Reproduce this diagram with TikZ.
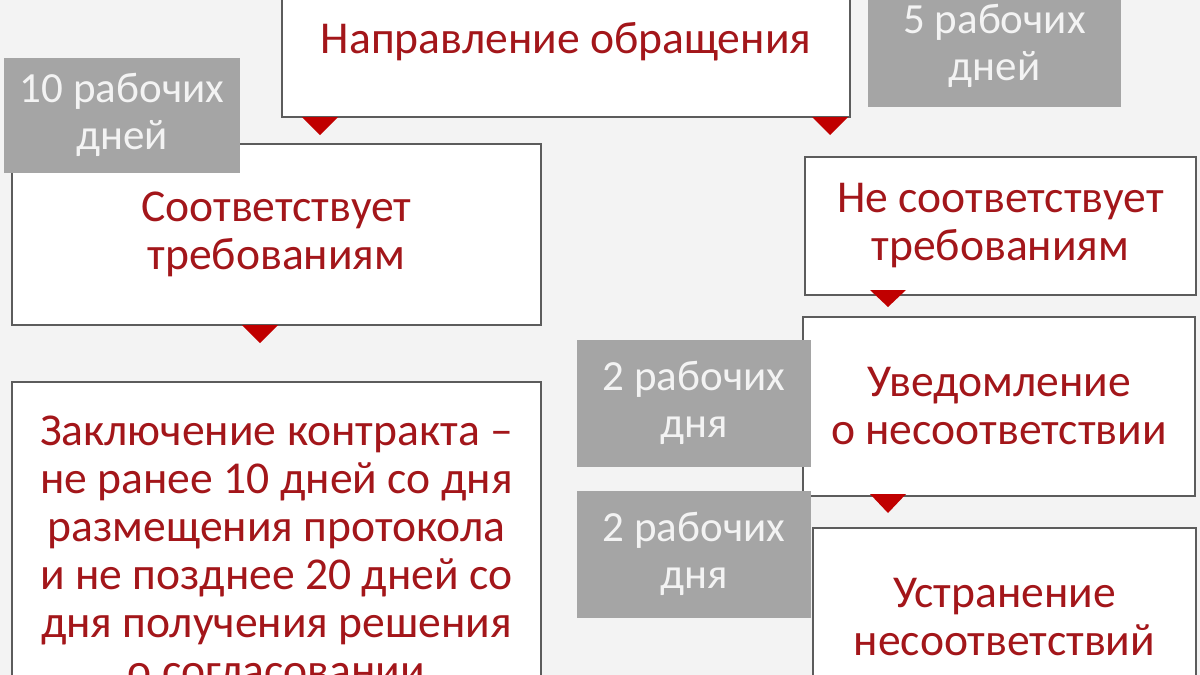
\documentclass[tikz,border=0pt]{standalone}
\usepackage{fontspec}
\setmainfont{Carlito}
\usetikzlibrary{positioning}

\definecolor{bgcol}{HTML}{F3F3F3}
\definecolor{framecol}{HTML}{5C5C5C}
\definecolor{txtred}{HTML}{A3161A}
\definecolor{markred}{HTML}{C00000}
\definecolor{termcol}{HTML}{A5A5A5}

\tikzset{
  stagebox/.style={draw=framecol, line width=1pt, fill=white, text=txtred,
    align=center, inner sep=0pt, font=\fontsize{22.8}{24}\selectfont},
  termbox/.style={fill=termcol, text=bgcol, align=center, inner sep=0pt,
    font=\fontsize{21.5}{23.5}\selectfont},
  marker/.style={fill=markred}
}

\begin{document}
\begin{tikzpicture}[x=0.5pt, y=-0.5pt]
  \useasboundingbox (0,0) rectangle (1200,675);
  \clip (0,0) rectangle (1200,675);
  \fill[bgcol] (0,0) rectangle (1200,675);

  % stages
  \node[stagebox, minimum width=284pt, minimum height=75pt] (request) at (566,42)
    {Направление обращения};
  \node[stagebox, minimum width=264.5pt, minimum height=90.5pt] (valid) at (276.5,234.5)
    {Соответствует\\требованиям};
  \node[stagebox, minimum width=264.5pt, minimum height=169pt] (contract) at (276.5,551)
    {Заключение контракта –\\не ранее 10 дней со дня\\размещения протокола\\и не позднее 20 дней со\\дня получения решения\\о согласовании};
  \node[stagebox, minimum width=195.5pt, minimum height=69pt] (invalid) at (1000.5,226)
    {Не соответствует\\требованиям};
  \node[stagebox, minimum width=196pt, minimum height=89.5pt] (notice) at (999,406)
    {Уведомление\\о несоответствии};
  \node[stagebox, minimum width=191.5pt, minimum height=89.5pt] (fix) at (1004.5,617.5)
    {Устранение\\несоответствий};

  % terms
  \node[termbox, minimum width=118pt, minimum height=57.5pt] (term10) at (122,115)
    {10 рабочих\\дней};
  \node[termbox, minimum width=126.5pt, minimum height=61pt] (term5) at (994.5,46)
    {5 рабочих\\дней};
  \node[termbox, minimum width=117pt, minimum height=63.5pt] (term2a) at (694,403)
    {2 рабочих\\дня};
  \node[termbox, minimum width=117pt, minimum height=63.5pt] (term2b) at (694,554)
    {2 рабочих\\дня};

  % markers
  \fill[marker] (302,117) -- (338,117) -- (320,135) -- cycle;
  \fill[marker] (812,117) -- (848,117) -- (830,135) -- cycle;
  \fill[marker] (242,325) -- (278,325) -- (260,343) -- cycle;
  \fill[marker] (870,290) -- (906,290) -- (888,307) -- cycle;
  \fill[marker] (870,494) -- (906,494) -- (888,513) -- cycle;
\end{tikzpicture}
\end{document}
